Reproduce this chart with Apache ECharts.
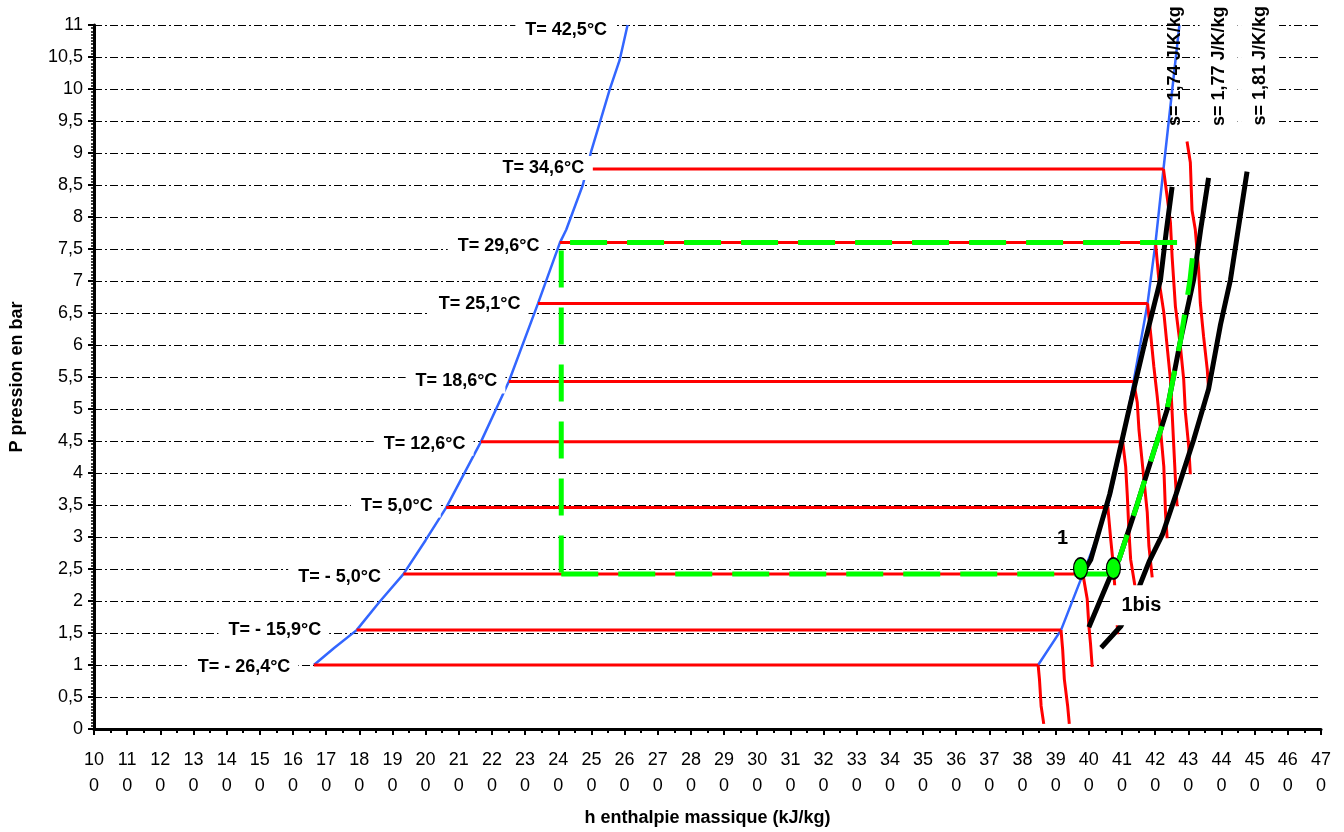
<!DOCTYPE html>
<html>
<head>
<meta charset="utf-8">
<script src="https://cdn.jsdelivr.net/npm/echarts@6/dist/echarts.min.js"></script>
<style>
  html, body { margin: 0; padding: 0; background: #fff; }
  #chart { width: 1344px; height: 832px; }
</style>
</head>
<body>
<div id="chart"></div>
<script>
// saturation plateaus: pressure (bar) and enthalpy limits (kJ/kg)
var tempNames = ['T= - 26,4°C', 'T= - 15,9°C', 'T= - 5,0°C', 'T= 5,0°C', 'T= 12,6°C',
                 'T= 18,6°C', 'T= 25,1°C', 'T= 29,6°C', 'T= 34,6°C'];
var plateauP  = [1.00, 1.545, 2.42, 3.46, 4.49, 5.43, 6.65, 7.60, 8.75];
var plateauH1 = [166.3, 179.2, 193.3, 206.2, 216.7, 225.1, 233.9, 240.5, 250.4];
var plateauH2 = [384.7, 391.6, 398.2, 405.7, 410.2, 413.5, 417.7, 420.1, 422.5];
var topTempName = 'T= 42,5°C';

// saturated liquid / vapour curves
var liqH = [166.3, 172.5, 179.2, 186.0, 193.3, 200.0, 206.2, 216.7, 225.1, 233.9, 240.5, 242.4, 247.4, 249.9, 252.8, 255.5, 258.5, 260.9];
var liqP = [1.00, 1.27, 1.545, 1.98, 2.42, 2.95, 3.46, 4.49, 5.43, 6.65, 7.60, 7.80, 8.50, 9.02, 9.52, 9.99, 10.45, 11.0];
var vapH = [384.7, 391.6, 398.2, 402.5, 405.7, 410.2, 413.5, 417.7, 420.1, 422.5, 427.3];
var vapP = [1.00, 1.545, 2.42, 3.00, 3.48, 4.49, 5.43, 6.65, 7.60, 8.75, 11.0];

// isotherms in the superheated vapour zone
var isoH = [
  [384.7, 385.1, 385.6, 386.4],
  [391.6, 392.1, 392.6, 393.6, 394.1],
  [398.2, 399.5, 400.0, 400.5, 401.0],
  [405.7, 406.6, 407.2, 408.1, 408.7],
  [410.2, 411.1, 411.6, 412.1, 412.6, 414.1],
  [413.5, 414.6, 415.1, 415.6, 416.6, 417.6, 418.1, 419.1],
  [417.7, 418.6, 419.6, 420.6, 421.6, 422.6, 423.1, 423.6],
  [420.1, 421.1, 422.6, 423.6, 424.6, 425.1, 425.6, 426.1, 426.6],
  [422.5, 423.6, 424.6, 425.1, 426.1, 427.6, 428.6, 429.1, 430.1, 430.6],
  [429.6, 430.6, 431.1, 432.1, 433.1, 433.6, 434.6, 435.7, 436.1]
];
var isoP = [
  [1.00, 0.78, 0.36, 0.08],
  [1.545, 1.24, 0.78, 0.36, 0.08],
  [2.42, 2.03, 1.61, 1.33, 0.97],
  [3.48, 2.96, 2.65, 2.03, 1.48],
  [4.49, 4.10, 3.64, 3.07, 2.65, 2.17],
  [5.43, 5.10, 4.68, 4.42, 3.90, 3.39, 2.86, 2.37],
  [6.65, 6.19, 5.66, 5.20, 4.68, 4.10, 3.39, 2.98],
  [7.60, 7.02, 6.51, 5.98, 5.46, 4.95, 4.42, 3.90, 3.48],
  [8.75, 8.32, 7.91, 7.38, 6.60, 5.98, 5.46, 4.95, 4.42, 3.98],
  [9.18, 8.85, 8.11, 7.80, 7.18, 6.66, 6.13, 5.62, 5.31]
];

// isentropes
var sNames = ['s= 1,74 J/K/kg', 's= 1,77 J/K/kg', 's= 1,81 J/K/kg'];
var s174H = [398.5, 400.6, 406.3, 412.1, 417.1, 421.6, 423.4, 425.1];
var s174P = [2.465, 2.65, 3.67, 4.99, 6.09, 7.02, 7.80, 8.47];
var s177H = [400.0, 407.4, 409.1, 411.4, 414.4, 420.1, 423.6, 427.7, 431.6, 433.7, 436.1];
var s177P = [1.59, 2.50, 2.65, 3.01, 3.48, 4.42, 4.99, 6.09, 7.02, 7.80, 8.61];
var s181H = [403.7, 409.7, 414.7, 418.2, 422.2, 426.3, 431.6, 436.1, 439.7, 442.7, 447.7];
var s181P = [1.27, 1.61, 2.16, 2.62, 3.04, 3.67, 4.52, 5.31, 6.32, 7.02, 8.71];

// refrigeration cycle (green)
var condH = [426.6, 240.5];
var condP = [7.60, 7.60];
var expH = [240.9, 240.9];
var expP = [7.60, 2.42];
var evapH = [240.9, 407.4];
var evapP = [2.42, 2.42];
var compH = [407.4, 409.1, 411.4, 414.4, 420.1, 423.6, 427.7, 430.5, 431.6];
var compP = [2.50, 2.65, 3.01, 3.48, 4.42, 4.99, 6.09, 7.02, 7.54];
var pointNames = ['1', '1bis'];
var pointH = [397.5, 407.4];
var pointP = [2.51, 2.51];

// label placement (px)
var labelDist = [15, 27, 14, 5, 7, 3, 9, 12, 0, 12];
var labelDy = [2, 0, 3, -2, 2, 0, 1, 3, -1, 5];

var FONT = "'Liberation Sans', Arial, sans-serif";
var RED = '#ff0000', BLUE = '#3366ff', GREEN = '#00ff00';

function pts(h, p) {
  return h.map(function (v, i) { return [v, p[i]]; });
}

function lineSeries(data, color, width, z, dash, dashOffset) {
  return {
    type: 'line',
    data: data,
    showSymbol: false,
    symbol: 'none',
    smooth: false,
    silent: true,
    z: z,
    lineStyle: { color: color, width: width, type: dash || 'solid', dashOffset: dashOffset || 0, cap: 'butt' }
  };
}

var series = [];

series.push(lineSeries(pts(liqH, liqP), BLUE, 2.5, 2));
series.push(lineSeries(pts(vapH, vapP), BLUE, 2.5, 2));

for (var i = 0; i < plateauP.length; i++) {
  series.push(lineSeries([[plateauH1[i], plateauP[i]], [plateauH2[i], plateauP[i]]], RED, 3, 3));
}
for (var j = 0; j < isoH.length; j++) {
  series.push(lineSeries(pts(isoH[j], isoP[j]), RED, 3, 3));
}

series.push(lineSeries(pts(s174H, s174P), '#000', 5, 4));
series.push(lineSeries(pts(s177H, s177P), '#000', 5, 4));
series.push(lineSeries(pts(s181H, s181P), '#000', 5, 4));

series.push(lineSeries(pts(condH, condP), GREEN, 5, 5, [37, 20], 0));
series.push(lineSeries(pts(expH, expP), GREEN, 5, 5, [37, 20], 49));
series.push(lineSeries(pts(evapH, evapP), GREEN, 5, 5, [37, 20], 0));
series.push(lineSeries(pts(compH, compP), GREEN, 5, 5, [37, 20], 0));

// state points 1 and 1bis
series.push({
  type: 'scatter',
  silent: true,
  z: 6,
  symbol: 'circle',
  symbolSize: [14, 21],
  itemStyle: { color: GREEN, borderColor: '#000', borderWidth: 1.5, opacity: 1 },
  data: pointH.map(function (h, k) {
    return {
      value: [h, pointP[k]],
      label: {
        show: true,
        opacity: 1,
        formatter: pointNames[k],
        position: 'inside',
        offset: k === 0 ? [-18, -30] : [27, 37],
        fontFamily: FONT, fontWeight: 'bold', fontSize: 20, color: '#000',
        textBorderWidth: 0,
        backgroundColor: k === 0 ? 'transparent' : '#fff',
        padding: k === 0 ? 0 : [10, 8, 10, 10]
      }
    };
  })
});

// temperature labels
var tAnchors = plateauP.map(function (p, k) { return [plateauH1[k], p]; });
tAnchors.push([liqH[liqH.length - 1], liqP[liqP.length - 1]]);
var tTexts = tempNames.concat([topTempName]);
series.push({
  type: 'scatter',
  silent: true,
  z: 7,
  symbolSize: 1,
  itemStyle: { color: 'rgba(0,0,0,0)', opacity: 1 },
  data: tAnchors.map(function (a, k) {
    return {
      value: a,
      label: {
        show: true,
        opacity: 1,
        formatter: tTexts[k],
        position: 'left',
        distance: labelDist[k],
        offset: [0, labelDy[k]],
        fontFamily: FONT, fontWeight: 'bold', fontSize: 18, color: '#000',
        backgroundColor: '#fff',
        padding: [3, 8, 3, 10]
      }
    };
  })
});

// entropy labels, written upwards above each isentrope
var sTops = [
  [s174H[s174H.length - 1], s174P[s174P.length - 1]],
  [s177H[s177H.length - 1], s177P[s177P.length - 1]],
  [s181H[s181H.length - 1], s181P[s181P.length - 1]]
];
var sOffsets = [[59, 3], [50, 10], [44, 13]];
series.push({
  type: 'scatter',
  silent: true,
  z: 7,
  symbolSize: 1,
  itemStyle: { color: 'rgba(0,0,0,0)', opacity: 1 },
  data: sTops.map(function (a, k) {
    return {
      value: a,
      label: {
        show: true,
        opacity: 1,
        formatter: sNames[k],
        position: 'inside',
        rotate: 90,
        align: 'left',
        verticalAlign: 'middle',
        offset: sOffsets[k],
        fontFamily: FONT, fontWeight: 'bold', fontSize: 18, color: '#000',
        textBorderWidth: 0,
        backgroundColor: k === 0 ? 'transparent' : '#fff',
        padding: [10, 2, 10, 2]
      }
    };
  })
});

var chart = echarts.init(document.getElementById('chart'), null, { renderer: 'canvas' });
chart.setOption({
  animation: false,
  backgroundColor: '#fff',
  grid: { left: 89, right: 23, top: 25, bottom: 102, containLabel: false },
  xAxis: {
    type: 'value',
    min: 100,
    max: 470,
    interval: 10,
    name: 'h enthalpie massique (kJ/kg)',
    nameLocation: 'middle',
    nameGap: 80,
    nameTextStyle: { fontFamily: FONT, fontWeight: 'bold', fontSize: 18, color: '#000' },
    axisLine: { onZero: false, lineStyle: { color: '#000', width: 3 } },
    axisTick: { length: 6, lineStyle: { width: 2, color: '#000' } },
    minorTick: { show: true, splitNumber: 2, length: 4, lineStyle: { width: 2, color: '#000' } },
    splitLine: { show: false },
    axisLabel: {
      margin: 18,
      fontFamily: FONT, fontSize: 18, color: '#000', lineHeight: 26,
      formatter: function (v) { var s = String(v); return s.slice(0, 2) + '\n' + s.slice(2); }
    }
  },
  yAxis: {
    type: 'value',
    min: 0,
    max: 11,
    interval: 0.5,
    name: 'P pression en bar',
    nameLocation: 'middle',
    nameGap: 68,
    nameTextStyle: { fontFamily: FONT, fontWeight: 'bold', fontSize: 18, color: '#000' },
    axisLine: { onZero: false, lineStyle: { color: '#000', width: 3 } },
    axisTick: { length: 6, lineStyle: { width: 2, color: '#000' } },
    minorTick: { show: true, splitNumber: 10, length: 3, lineStyle: { width: 1.5, color: '#000' } },
    splitLine: { show: true, lineStyle: { color: '#000', width: 1, type: [8, 3, 2, 3] } },
    axisLabel: {
      margin: 11,
      fontFamily: FONT, fontSize: 18, color: '#000',
      formatter: function (v) { return String(v).replace('.', ','); }
    }
  },
  series: series
});
</script>
</body>
</html>
